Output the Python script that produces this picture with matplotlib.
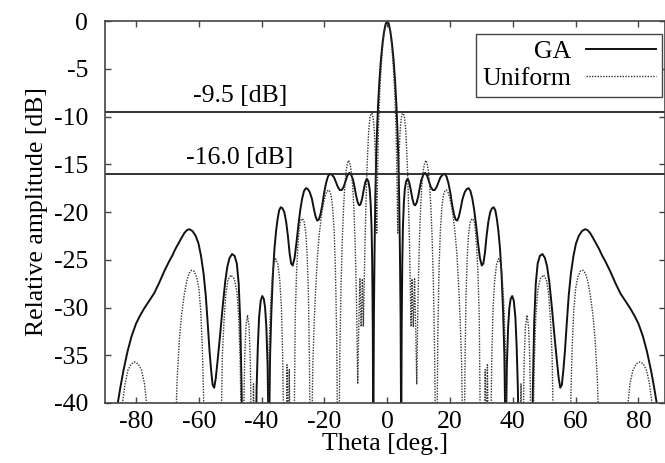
import matplotlib

matplotlib.use("Agg")
import matplotlib.pyplot as plt
import numpy as np

# GA-optimised pattern, theta [deg.] / relative amplitude [dB]
GA_THETA_LEFT = [
    -86.4,
    -85.8, -85.0, -84.0, -82.7, -81.4, -80.0, -78.8, -77.4, -75.8, -74.2,
    -72.6, -71.0, -69.5, -68.5, -67.5, -66.5, -65.5, -64.6, -63.8, -63.0,
    -62.0, -61.0, -60.1, -59.3, -58.5, -57.8, -57.2, -56.6, -56.1, -55.6,
    -55.1, -54.6, -54.0, -53.2, -52.4, -51.6, -50.9, -50.2, -49.4, -48.6,
    -47.9, -47.3, -46.8, -46.4, -46.1, -41.9, -41.6, -41.2, -40.8, -40.3,
    -39.8, -39.3, -38.9, -38.5, -38.1, -37.7, -37.3, -36.9, -36.4, -35.9,
    -35.4, -34.9, -34.4, -33.9, -33.4, -32.8, -32.2, -31.6, -31.1, -30.6,
    -30.1, -29.5, -28.9, -28.3, -27.7, -27.1, -26.5, -25.9, -25.3, -24.7,
    -24.0, -23.4, -22.8, -22.3, -21.8, -21.3, -20.7, -20.1, -19.5, -18.9,
    -18.3, -17.6, -16.9, -16.3, -15.7, -15.1, -14.5, -13.9, -13.3, -12.7,
    -12.1, -11.5, -10.9, -10.4, -9.9, -9.4, -8.9, -8.5, -8.0, -7.5,
    -7.0, -6.5, -6.0, -5.6, -5.3, -5.0, -4.8, -4.6, -4.45, -4.25,
    -4.05, -3.8, -3.5, -3.2, -2.9, -2.5, -2.0, -1.5, -1.0, -0.5,
]
GA_DB_LEFT = [
    -41.5,
    -40.0, -38.4, -36.6, -34.6, -33.0, -31.7, -30.9, -30.1, -29.3, -28.5,
    -27.4, -26.2, -25.2, -24.6, -23.9, -23.3, -22.7, -22.2, -21.9, -21.8,
    -22.0, -22.5, -23.3, -24.6, -26.4, -28.7, -31.5, -34.5, -36.5, -38.1,
    -38.4, -37.4, -35.5, -32.8, -29.9, -27.3, -25.7, -24.8, -24.4, -24.6,
    -25.4, -27.5, -31.5, -38.0, -45.0, -45.0, -38.5, -34.0, -31.0, -29.3,
    -28.8, -29.1, -30.0, -32.0, -36.0, -45.0, -35.0, -30.5, -26.5, -23.8,
    -22.0, -20.7, -19.8, -19.5, -19.6, -20.0, -21.0, -22.6, -24.3, -25.4,
    -25.6, -24.8, -23.2, -21.4, -19.8, -18.6, -17.8, -17.5, -17.6, -17.9,
    -18.6, -19.6, -20.5, -20.9, -20.8, -20.3, -19.3, -18.0, -17.0, -16.3,
    -16.0, -16.1, -16.4, -16.9, -17.4, -17.7, -17.7, -17.4, -16.8, -16.2,
    -15.9, -16.1, -16.6, -17.4, -18.3, -19.0, -19.3, -19.2, -18.6, -17.7,
    -16.9, -16.5, -16.8, -17.6, -19.0, -21.5, -25.0, -32.0, -45.0, -31.0,
    -24.5, -18.5, -14.0, -11.0, -8.7, -6.3, -4.0, -2.3, -1.1, -0.3,
]
GA_THETA_RIGHT = [
    0.0,
    0.5, 1.0, 1.5, 2.0, 2.5, 2.9, 3.2, 3.5, 3.8, 4.05,
    4.25, 4.45, 4.6, 4.8, 5.0, 5.3, 5.6, 6.0, 6.5, 7.0,
    7.5, 8.0, 8.5, 8.9, 9.4, 9.9, 10.4, 10.9, 11.5, 12.1,
    12.7, 13.3, 13.9, 14.5, 15.1, 15.7, 16.3, 16.9, 17.6, 18.3,
    18.9, 19.5, 20.1, 20.7, 21.3, 21.8, 22.3, 22.8, 23.4, 24.0,
    24.7, 25.3, 25.9, 26.5, 27.1, 27.7, 28.3, 28.9, 29.5, 30.1,
    30.6, 31.1, 31.6, 32.2, 32.8, 33.4, 33.9, 34.4, 34.9, 35.4,
    35.9, 36.4, 36.9, 37.3, 37.7, 38.1, 38.5, 38.9, 39.3, 39.8,
    40.3, 40.8, 41.2, 41.6, 41.9, 46.1, 46.4, 46.8, 47.3, 47.9,
    48.6, 49.4, 50.2, 50.9, 51.6, 52.4, 53.2, 54.0, 54.6, 55.1,
    55.6, 56.1, 56.6, 57.2, 57.8, 58.5, 59.3, 60.1, 61.0, 62.0,
    63.0, 63.8, 64.6, 65.5, 66.5, 67.5, 68.5, 69.5, 71.0, 72.6,
    74.2, 75.8, 77.4, 78.8, 80.0, 81.4, 82.7, 84.0, 85.0, 85.8,
    86.4,
]
GA_DB_RIGHT = [
    0.0,
    -0.3, -1.1, -2.3, -4.0, -6.3, -8.7, -11.0, -14.0, -18.5, -24.5,
    -31.0, -45.0, -32.0, -25.0, -21.5, -19.0, -17.6, -16.8, -16.5, -16.9,
    -17.7, -18.6, -19.2, -19.3, -19.0, -18.3, -17.4, -16.6, -16.1, -15.9,
    -16.2, -16.8, -17.4, -17.7, -17.7, -17.4, -16.9, -16.4, -16.1, -16.0,
    -16.3, -17.0, -18.0, -19.3, -20.3, -20.8, -20.9, -20.5, -19.6, -18.6,
    -17.9, -17.6, -17.5, -17.8, -18.6, -19.8, -21.4, -23.2, -24.8, -25.6,
    -25.4, -24.3, -22.6, -21.0, -20.0, -19.6, -19.5, -19.8, -20.7, -22.0,
    -23.8, -26.5, -30.5, -35.0, -45.0, -36.0, -32.0, -30.0, -29.1, -28.8,
    -29.3, -31.0, -34.0, -38.5, -45.0, -45.0, -38.0, -31.5, -27.5, -25.4,
    -24.6, -24.4, -24.8, -25.7, -27.3, -29.9, -32.8, -35.5, -37.4, -38.4,
    -38.1, -36.5, -34.5, -31.5, -28.7, -26.4, -24.6, -23.3, -22.5, -22.0,
    -21.8, -21.9, -22.2, -22.7, -23.3, -23.9, -24.6, -25.2, -26.2, -27.4,
    -28.5, -29.3, -30.1, -30.9, -31.7, -33.0, -34.6, -36.6, -38.4, -40.0,
    -41.5,
]

# uniform-excitation pattern
UNI_THETA_LEFT = [
    -85.9, -85.0, -84.3, -83.5, -82.6, -81.5, -80.4, -79.3,
    -78.2, -77.3, -76.5, -75.8, -67.6, -66.9, -66.2, -65.5, -64.7, -63.9,
    -63.1, -62.3, -61.5, -60.7, -60.0, -59.4, -58.9, -58.5, -58.1, -53.0,
    -52.5, -52.0, -51.4, -50.7, -49.8, -48.7, -47.9, -47.3, -46.8, -46.4,
    -45.9, -45.4, -45.0, -44.5, -44.0, -43.6, -43.2, -43.0, -42.6, -42.2,
    -38.0, -37.6, -37.1, -36.6, -36.1, -35.5, -34.8, -34.2, -33.7, -33.3,
    -32.9, -32.2, -31.9, -31.5, -31.2, -30.9, -29.7, -29.3, -28.9, -28.5,
    -28.1, -27.7, -27.2, -26.8, -26.4, -25.9, -25.5, -25.1, -24.8, -24.5,
    -24.1, -23.7, -23.2, -22.7, -22.2, -21.6, -21.0, -20.4, -19.8, -19.3,
    -18.8, -18.4, -17.9, -17.4, -16.9, -16.5, -16.1, -15.8, -15.4, -15.1,
    -14.7, -14.3, -13.9, -13.5, -13.1, -12.7, -12.3, -11.9, -11.5, -11.0,
    -10.6, -10.2, -9.8, -9.4, -9.0, -8.7, -8.3, -7.9, -7.6, -7.4,
    -7.1, -6.8, -6.5, -6.2, -5.9, -5.5, -5.0, -4.5, -4.1, -3.8,
    -3.55, -3.35, -3.2, -3.0, -2.75, -2.4, -2.0, -1.5, -1.0, -0.5,
]
UNI_DB_LEFT = [
    -45.0, -42.5, -40.0, -38.0, -36.6, -35.9, -35.7, -35.9,
    -36.6, -38.0, -40.5, -45.0, -45.0, -37.5, -33.4, -30.8, -28.8, -27.3,
    -26.4, -26.1, -26.2, -26.8, -28.0, -30.3, -34.0, -39.0, -45.0, -45.0,
    -35.0, -31.5, -28.6, -27.1, -26.6, -27.0, -28.3, -31.0, -36.0, -45.0,
    -45.0, -35.5, -32.0, -30.8, -32.0, -35.5, -45.0, -45.0, -38.0, -45.0,
    -45.0, -34.0, -29.5, -26.8, -25.4, -24.9, -25.5, -27.2, -30.0, -35.0,
    -45.0, -45.0, -36.0, -45.0, -36.5, -45.0, -45.0, -31.0, -26.5, -23.8,
    -22.0, -21.0, -20.7, -20.8, -21.1, -22.3, -24.5, -28.5, -35.0, -45.0,
    -45.0, -36.0, -31.0, -27.5, -24.5, -22.2, -20.5, -19.3, -18.4, -17.9,
    -17.7, -17.8, -18.2, -19.5, -22.0, -26.0, -33.0, -45.0, -45.0, -35.0,
    -27.5, -22.8, -19.5, -17.2, -15.7, -14.9, -14.6, -14.9, -15.6, -17.3,
    -19.8, -23.5, -29.0, -38.0, -31.0, -27.0, -32.0, -27.0, -32.0, -28.5,
    -23.5, -19.5, -16.0, -13.5, -11.5, -10.1, -9.5, -10.1, -11.5, -13.8,
    -17.5, -22.2, -18.5, -14.5, -10.8, -7.6, -5.2, -2.9, -1.3, -0.35,
]
UNI_THETA_RIGHT = [
    0.0,
    0.5, 1.0, 1.5, 2.0, 2.4, 2.75, 3.0, 3.2, 3.35, 3.55,
    3.8, 4.1, 4.5, 5.0, 5.5, 5.9, 6.2, 6.5, 6.8, 7.1,
    7.4, 7.6, 7.9, 8.3, 8.7, 9.0, 9.4, 9.8, 10.2, 10.6,
    11.0, 11.5, 11.9, 12.3, 12.7, 13.1, 13.5, 13.9, 14.3, 14.7,
    15.1, 15.4, 15.8, 16.1, 16.5, 16.9, 17.4, 17.9, 18.4, 18.8,
    19.3, 19.8, 20.4, 21.0, 21.6, 22.2, 22.7, 23.2, 23.7, 24.1,
    24.5, 24.8, 25.1, 25.5, 25.9, 26.4, 26.8, 27.2, 27.7, 28.1,
    28.5, 28.9, 29.3, 29.7, 30.9, 31.2, 31.5, 31.9, 32.2, 32.9,
    33.3, 33.7, 34.2, 34.8, 35.5, 36.1, 36.6, 37.1, 37.6, 38.0,
    42.2, 42.6, 43.0, 43.2, 43.6, 44.0, 44.5, 45.0, 45.4, 45.9,
    46.4, 46.8, 47.3, 47.9, 48.7, 49.8, 50.7, 51.4, 52.0, 52.5,
    53.0, 58.1, 58.5, 58.9, 59.4, 60.0, 60.7, 61.5, 62.3, 63.1,
    63.9, 64.7, 65.5, 66.2, 66.9, 67.6, 75.8, 76.5, 77.3, 78.2,
    79.3, 80.4, 81.5, 82.6, 83.5, 84.3, 85.0, 85.9,
]
UNI_DB_RIGHT = [
    0.0,
    -0.35, -1.3, -2.9, -5.2, -7.6, -10.8, -14.5, -18.5, -22.2, -17.5,
    -13.8, -11.5, -10.1, -9.5, -10.1, -11.5, -13.5, -16.0, -19.5, -23.5,
    -28.5, -32.0, -27.0, -32.0, -27.0, -31.0, -38.0, -29.0, -23.5, -19.8,
    -17.3, -15.6, -14.9, -14.6, -14.9, -15.7, -17.2, -19.5, -22.8, -27.5,
    -35.0, -45.0, -45.0, -33.0, -26.0, -22.0, -19.5, -18.2, -17.8, -17.7,
    -17.9, -18.4, -19.3, -20.5, -22.2, -24.5, -27.5, -31.0, -36.0, -45.0,
    -45.0, -35.0, -28.5, -24.5, -22.3, -21.1, -20.8, -20.7, -21.0, -22.0,
    -23.8, -26.5, -31.0, -45.0, -45.0, -36.5, -45.0, -36.0, -45.0, -45.0,
    -35.0, -30.0, -27.2, -25.5, -24.9, -25.4, -26.8, -29.5, -34.0, -45.0,
    -45.0, -38.0, -45.0, -45.0, -35.5, -32.0, -30.8, -32.0, -35.5, -45.0,
    -45.0, -36.0, -31.0, -28.3, -27.0, -26.6, -27.1, -28.6, -31.5, -35.0,
    -45.0, -45.0, -39.0, -34.0, -30.3, -28.0, -26.8, -26.2, -26.1, -26.4,
    -27.3, -28.8, -30.8, -33.4, -37.5, -45.0, -45.0, -40.5, -38.0, -36.6,
    -35.9, -35.7, -35.9, -36.6, -38.0, -40.0, -42.5, -45.0,
]

LEVELS = [-9.5, -16.0]
LEVEL_LABELS = ["-9.5 [dB]", "-16.0 [dB]"]
X_TICKS = [-80, -60, -40, -20, 0, 20, 40, 60, 80]
Y_TICKS = [-40, -35, -30, -25, -20, -15, -10, -5, 0]

plt.rcParams["font.family"] = ["Liberation Serif", "DejaVu Serif"]
plt.rcParams["font.size"] = 18.5
plt.rcParams["axes.unicode_minus"] = False

ga_theta = np.concatenate([GA_THETA_LEFT, GA_THETA_RIGHT])
ga_db = np.concatenate([GA_DB_LEFT, GA_DB_RIGHT])
uni_theta = np.concatenate([UNI_THETA_LEFT, UNI_THETA_RIGHT])
uni_db = np.concatenate([UNI_DB_LEFT, UNI_DB_RIGHT])

fig = plt.figure(figsize=(6.65, 4.63), dpi=100)
ax = fig.add_axes([0.1573, 0.1296, 0.842, 0.825])

ax.plot(ga_theta, ga_db, "-", color="#111111", lw=1.4, label="GA",
        solid_joinstyle="round")
ax.plot(uni_theta, uni_db, color="#333333", lw=1.0, ls=(0, (1, 1)),
        label="Uniform")

for lv, txt in zip(LEVELS, LEVEL_LABELS):
    ax.axhline(lv, color="#222222", lw=1.3)
    ax.text(-47, lv + 1.65, txt, ha="center", va="center")

ax.set_xlim(-90, 88.3)
ax.set_ylim(-40, 0)
ax.set_xticks(X_TICKS)
ax.set_yticks(Y_TICKS)
ax.tick_params(direction="in", top=True, right=True, length=4, width=1,
               color="#444444")
ax.tick_params(axis="x", pad=6)
ax.tick_params(axis="y", pad=12)
for s in ax.spines.values():
    s.set_color("#444444")
    s.set_linewidth(1.2)

ax.set_xlabel("Theta [deg.]", labelpad=0)
ax.set_ylabel("Relative amplitude [dB]", labelpad=4)

leg = ax.legend(loc="upper right", bbox_to_anchor=(0.9955, 0.966),
                markerfirst=False, fancybox=False, framealpha=1,
                edgecolor="#444444", handlelength=2.7, borderaxespad=0,
                borderpad=0.25, labelspacing=0.15, handletextpad=0.6)
leg.get_frame().set_linewidth(1.0)

fig.savefig("out.png", dpi=100)
